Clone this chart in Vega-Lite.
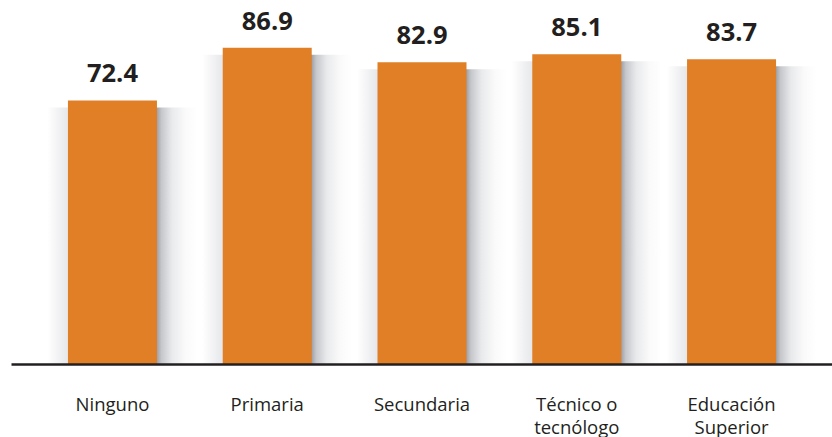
{
  "$schema": "https://vega.github.io/schema/vega-lite/v6.json",
  "autosize": {"type": "none"},
  "width": 822,
  "height": 364,
  "padding": {"left": 11, "top": 0, "right": 0, "bottom": 73},
  "background": "white",
  "config": {"view": {"stroke": null}, "font": "Open Sans"},
  "data": {
    "values": [
      {"nivel": "Ninguno", "valor": 72.4},
      {"nivel": "Primaria", "valor": 86.9},
      {"nivel": "Secundaria", "valor": 82.9},
      {"nivel": "Técnico o|tecnólogo", "valor": 85.1},
      {"nivel": "Educación|Superior", "valor": 83.7}
    ]
  },
  "encoding": {
    "x": {
      "field": "nivel",
      "type": "nominal",
      "sort": null,
      "scale": {"paddingInner": 0.425, "paddingOuter": 0.368},
      "axis": {
        "title": null,
        "labelAngle": 0,
        "ticks": false,
        "zindex": 1,
        "domainColor": "#231f20",
        "domainWidth": 2.5,
        "labelFont": "Open Sans",
        "labelFontSize": 18.5,
        "labelColor": "#231f20",
        "labelPadding": 31,
        "labelLineHeight": 23,
        "labelExpr": "split(datum.label, '|')"
      }
    },
    "y": {
      "field": "valor",
      "type": "quantitative",
      "scale": {"domain": [0, 100]},
      "axis": null
    }
  },
  "layer": [
    {
      "mark": {
        "type": "bar",
        "xOffset": 10,
        "yOffset": 7,
        "y2Offset": 0,
        "width": 150,
        "color": {
          "gradient": "linear",
          "x1": 0, "y1": 0, "x2": 1, "y2": 0,
          "stops": [
            {"offset": 0, "color": "#ffffff"},
            {"offset": 0.137, "color": "#e6e7ea"},
            {"offset": 0.73, "color": "#9fa1a7"},
            {"offset": 0.76, "color": "#c5c7cb"},
            {"offset": 0.83, "color": "#e9eaec"},
            {"offset": 0.92, "color": "#fafafa"},
            {"offset": 1, "color": "#ffffff"}
          ]
        }
      },
      "encoding": {"y": {"field": "valor", "type": "quantitative", "scale": {"domain": [0, 100]}}, "y2": {"datum": 0}}
    },
    {
      "mark": {"type": "bar", "color": "#e07f26"}
    },
    {
      "mark": {
        "type": "text",
        "baseline": "bottom",
        "dy": -13,
        "fontSize": 25.5,
        "fontWeight": "bold",
        "font": "Open Sans",
        "color": "#231f20"
      },
      "encoding": {"text": {"field": "valor", "type": "quantitative", "format": ".1f"}}
    }
  ]
}
